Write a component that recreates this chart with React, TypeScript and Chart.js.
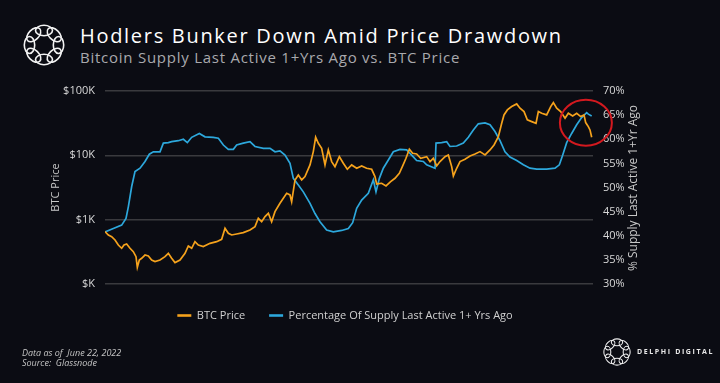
import React, { useEffect, useRef } from "react";
import { Chart, registerables } from "chart.js";

Chart.register(...registerables);

// ---- Data (x = months since Jun-2014) ----
const xTickMonths = [0, 12, 24, 36, 48, 60, 72, 84, 96];
const xTickLabels = ["Jun-14", "Jun-15", "Jun-16", "Jun-17", "Jun-18", "Jun-19", "Jun-20", "Jun-21", "Jun-22"];

const priceMonths = [
  0, 0.66, 1.31, 1.97, 2.62, 3.28, 3.74, 4.26, 4.92, 5.57, 6.1, 6.36, 6.75, 7.21, 7.87, 8.52, 9.18, 9.84, 10.82, 11.8,
  12.46, 13.11, 13.77, 14.75, 15.74, 16.39, 17.05, 17.7, 18.36, 19.34, 20.66, 21.97, 22.95, 23.61, 24.26, 24.92, 25.9,
  27.21, 28.52, 29.51, 30.16, 30.82, 31.48, 32.13,
  32.78, 33.44, 34.42, 35.08, 35.74, 36.39, 36.72, 37.38, 38.03, 38.69, 39.34, 40.33, 40.98, 41.44, 41.97, 42.62, 43.28,
  43.93, 44.59, 45.24, 46.1, 46.88, 47.67, 48.52, 49.51, 50.49, 51.47, 52.46, 53.11, 53.44, 54.42, 55.28, 56.19, 57.05,
  57.9, 58.56, 59.21, 59.87, 60.52, 61.31, 62.1,
  63.28, 63.94, 64.59, 65.25, 65.9, 66.89, 67.54, 68.2, 68.53, 69.18, 69.84, 70.82, 71.81, 72.79, 73.77, 74.76, 75.74,
  76.53, 77.38, 78.04, 78.49, 79.15, 80.0, 80.99, 81.64, 82.43, 83.08, 83.94, 84.79, 85.25, 85.91, 86.89, 87.68, 88.2,
  88.86, 89.64, 90.5, 91.15, 92.0, 92.79, 93.58, 94.23, 94.56, 95.08, 95.41, 95.74,
];
const priceValues = [
  651, 578, 545, 483, 404, 359, 404, 419, 359, 318, 266, 182, 236, 251, 282, 272, 236, 223, 236, 266,
  300, 251, 215, 236, 300, 390, 359, 455, 404, 381, 429, 455, 495, 734, 614, 578, 599,
  629, 692, 779, 1050, 931, 1115, 1256,
  931, 1333, 1797, 2149, 2570, 2422, 1907, 4143, 4955, 4143, 4668, 7090, 11430, 19100, 15400, 12880, 7090,
  12130, 7990, 6680, 9550, 7530, 6070, 7090, 6290, 6840, 6290, 6070, 4668, 3590, 3680, 3342, 3903, 4400,
  5260, 6840, 9000, 12420, 10770, 10510, 9000,
  9550, 7990, 9000, 6840, 7990, 9550, 10150, 6680, 4780, 6290, 7990, 8690, 9790, 10510, 11430, 10150, 12130,
  14510, 19550, 31540, 42470, 50830, 57260, 63000, 53950, 47870, 35540, 33450, 31540, 47870, 45090, 42470, 57260, 66070,
  53950, 47870, 37740, 45090, 41000, 45090, 40000, 42470, 32280, 27980, 24830, 19100,
];

const supplyMonths = [
  0, 1.64, 3.28, 4.13, 4.59, 5.25, 5.9, 6.89, 7.87, 8.72, 9.51, 10.82, 11.48, 12.46, 13.11, 14.43, 15.41, 16.2, 17.05,
  18.56, 19.67, 21.31, 22.3, 23.28, 24.26, 25.25, 25.9, 27.21, 28.52, 29.51, 31.15, 32.46,
  33.44, 34.42, 35.41, 36.39, 37.05, 38.03, 39.01, 40.33, 41.31, 42.29, 43.6, 44.92, 46.56, 47.87, 48.72, 49.51, 50.49,
  51.8, 52.79, 53.31, 53.97, 54.75, 55.74, 56.72, 58.03, 59.34, 60.33, 61.31, 62.62,
  63.28, 64.92, 65.12, 66.23, 67.22, 67.87, 69.18, 70.49, 71.48, 72.46, 73.44, 74.76, 75.74, 76.72, 77.71, 78.69, 79.67,
  80.99, 82.3, 83.61, 84.92, 86.89, 88.53, 89.38, 90.03, 90.82, 91.8, 92.79, 93.77, 94.76, 95.08, 95.74,
];
const supplyValues = [
  40.8, 41.5, 42.2, 43.6, 46.0, 50.2, 53.3, 54.0, 55.4, 56.9, 57.4, 57.4, 59.2, 59.3, 59.5, 59.7, 60.0, 59.3, 60.4,
  61.2, 60.5, 60.4, 60.2, 58.8, 57.9, 57.9, 58.8, 59.2, 59.5, 58.5, 58.1, 58.1,
  57.4, 57.6, 56.7, 55.0, 51.9, 50.5, 49.1, 46.7, 44.6, 42.9, 41.2, 40.8, 41.1, 41.5, 42.7, 45.7, 47.4,
  48.8, 51.6, 49.1, 51.9, 54.0, 55.7, 57.4, 57.9, 57.8, 56.7, 55.6, 55.4,
  54.7, 54.0, 59.2, 59.3, 59.5, 58.5, 58.6, 59.2, 60.4, 61.9, 63.2, 63.4, 63.0, 61.6, 59.7, 57.4, 56.3,
  55.6, 54.7, 54.0, 53.8, 53.8, 54.0, 54.7, 56.7, 59.3, 61.2, 63.0, 64.5, 65.5, 65.2, 64.8,
];

const priceTicks = [100, 1000, 10000, 100000];
const priceTickLabels = ["$K", "$1K", "$10K", "$100K"];

// highlight annotation (in data units) around the latest readings
const highlightMonth = 94.6;
const highlightPct = 63.4;

const FONT = "'Open Sans', sans-serif";
const BG = "#0b0c13";
const ORANGE = "#F5A21C";
const BLUE = "#2DA8DC";

const highlightPlugin = {
  id: "highlight",
  afterDatasetsDraw(chart: any) {
    const { ctx, scales } = chart;
    const x = scales.x.getPixelForValue(highlightMonth);
    const y = scales.y1.getPixelForValue(highlightPct);
    ctx.save();
    ctx.beginPath();
    ctx.ellipse(x, y, 26, 23, 0, 0, Math.PI * 2);
    ctx.strokeStyle = "#d3191f";
    ctx.lineWidth = 2;
    ctx.stroke();
    ctx.restore();
  },
};

function RingLogo({ cx, cy, r }: { cx: number; cy: number; r: number }) {
  const s = (r * 2) / 42;
  const loops = [0, 1, 2, 3, 4, 5, 6, 7].map((k) => (
    <ellipse
      key={k}
      cx={0}
      cy={-14.5}
      rx={8.5}
      ry={5.2}
      transform={`rotate(${k * 45})`}
      fill="none"
      stroke="#f2f2f2"
      strokeWidth={1.6}
    />
  ));
  return (
    <svg
      style={{ position: "absolute", left: cx - 21 * s, top: cy - 21 * s }}
      width={42 * s}
      height={42 * s}
      viewBox="-21 -21 42 42"
    >
      {loops}
    </svg>
  );
}

export default function App() {
  const ref = useRef<HTMLCanvasElement>(null);

  useEffect(() => {
    if (!ref.current) return;
    const chart = new Chart(ref.current, {
      type: "line",
      data: {
        datasets: [
          {
            label: "BTC Price",
            data: priceMonths.map((m, i) => ({ x: m, y: priceValues[i] })),
            yAxisID: "y",
            borderColor: ORANGE,
            backgroundColor: ORANGE,
            borderWidth: 1.7,
            pointRadius: 0,
            tension: 0,
          },
          {
            label: "Percentage Of Supply Last Active 1+ Yrs Ago",
            data: supplyMonths.map((m, i) => ({ x: m, y: supplyValues[i] })),
            yAxisID: "y1",
            borderColor: BLUE,
            backgroundColor: BLUE,
            borderWidth: 1.7,
            pointRadius: 0,
            tension: 0,
          },
        ],
      },
      options: {
        responsive: false,
        animation: false,
        layout: { padding: { left: 45, right: 75, top: 91, bottom: 52 } },
        scales: {
          x: {
            type: "linear",
            min: 0,
            max: 96,
            afterBuildTicks: (s: any) => {
              s.ticks = xTickMonths.map((v) => ({ value: v }));
            },
            afterFit: (s: any) => {
              s.height = 2;
            },
            ticks: {
              autoSkip: false,
              maxRotation: 0,
              padding: 6,
              color: "#d8d8d8",
              font: { family: FONT, size: 11 },
              callback: (v: any) => xTickLabels[xTickMonths.indexOf(Number(v))],
            },
            grid: { display: false },
            border: { display: false },
          },
          y: {
            type: "logarithmic",
            position: "left",
            min: 100,
            max: 100000,
            afterBuildTicks: (s: any) => {
              s.ticks = priceTicks.map((v) => ({ value: v }));
            },
            afterFit: (s: any) => {
              s.width = 60;
            },
            ticks: {
              padding: 10,
              color: "#d8d8d8",
              font: { family: FONT, size: 11 },
              callback: (v: any) => priceTickLabels[priceTicks.indexOf(Number(v))],
            },
            grid: { color: "#3a3a3e", lineWidth: 1.5, drawTicks: false },
            border: { display: false },
            title: {
              display: true,
              text: "BTC Price",
              color: "#c8c8c8",
              font: { family: FONT, size: 11 },
            },
          },
          y1: {
            type: "linear",
            position: "right",
            min: 30,
            max: 70,
            afterFit: (s: any) => {
              s.width = 52;
            },
            ticks: {
              stepSize: 5,
              padding: 10,
              color: "#d8d8d8",
              font: { family: FONT, size: 11 },
              callback: (v: any) => `${v}%`,
            },
            grid: { display: false, drawTicks: false },
            border: { display: false },
          },
        },
        plugins: {
          legend: {
            position: "bottom",
            labels: {
              color: "#d0d0d0",
              font: { family: FONT, size: 11 },
              usePointStyle: true,
              pointStyle: "line",
              pointStyleWidth: 14,
              padding: 24,
              generateLabels: (c: any) =>
                (Chart.defaults as any).plugins.legend.labels
                  .generateLabels(c)
                  .map((l: any) => ({ ...l, lineWidth: 2.6 })),
            },
          },
          tooltip: { enabled: false },
        },
      },
      plugins: [highlightPlugin],
    } as any);
    return () => chart.destroy();
  }, []);

  return (
    <div
      style={{
        position: "absolute",
        left: 0,
        top: 0,
        width: 720,
        height: 383,
        background: BG,
        overflow: "hidden",
        fontFamily: FONT,
      }}
    >
      <RingLogo cx={44} cy={45} r={21} />
      <div
        style={{
          position: "absolute",
          left: 80,
          top: 26,
          fontSize: 20,
          lineHeight: "20px",
          color: "#ffffff",
          letterSpacing: 1.7,
          whiteSpace: "nowrap",
        }}
      >
        Hodlers Bunker Down Amid Price Drawdown
      </div>
      <div
        style={{
          position: "absolute",
          left: 80,
          top: 50,
          fontSize: 15,
          lineHeight: "15px",
          color: "#a9a9ad",
          letterSpacing: 0.75,
          whiteSpace: "nowrap",
        }}
      >
        Bitcoin Supply Last Active 1+Yrs Ago vs. BTC Price
      </div>
      <canvas ref={ref} width={720} height={383} style={{ position: "absolute", left: 0, top: 0, width: 720, height: 383 }} />
      <div
        style={{
          position: "absolute",
          left: 633 - 100,
          top: 188 - 8,
          width: 200,
          height: 16,
          lineHeight: "16px",
          textAlign: "center",
          fontSize: 12,
          color: "#c8c8c8",
          transform: "rotate(-90deg)",
          whiteSpace: "nowrap",
        }}
      >
        % Supply Last Active 1+Yr Ago
      </div>
      <div
        style={{
          position: "absolute",
          left: 22,
          top: 348,
          fontSize: 9,
          lineHeight: "10px",
          color: "#c4c4c4",
          fontStyle: "italic",
          whiteSpace: "nowrap",
        }}
      >
        Data as of&nbsp; June 22, 2022
        <br />
        Source:&nbsp; Glassnode
      </div>
      <RingLogo cx={617} cy={352} r={14} />
      <div
        style={{
          position: "absolute",
          left: 637,
          top: 348,
          fontSize: 7,
          lineHeight: "8px",
          fontWeight: 700,
          letterSpacing: 1.6,
          color: "#e8e8e8",
          whiteSpace: "nowrap",
        }}
      >
        DELPHI DIGITAL
      </div>
    </div>
  );
}
